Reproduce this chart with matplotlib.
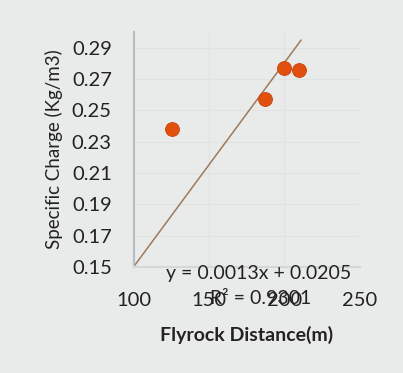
import matplotlib
matplotlib.use("Agg")
import matplotlib.pyplot as plt
import numpy as np

flyrock = [125, 187, 200, 210]
charge = [0.238, 0.257, 0.277, 0.276]
slope = 0.0013
intercept = 0.0205
trend_x = [100, 211]
eq_text = "y = 0.0013x + 0.0205"
r2_text = "R² = 0.9301"
xticks = [100, 150, 200, 250]
yticks = [0.15, 0.17, 0.19, 0.21, 0.23, 0.25, 0.27, 0.29]

plt.rcParams['font.family'] = ['Lato', 'DejaVu Sans']
bg = '#E9EBEA'
fig = plt.figure(figsize=(4.03, 3.73), dpi=100, facecolor=bg)
ax = fig.add_axes([0.3325, 0.284, 0.56, 0.63], facecolor=bg)

tx = np.array(trend_x, dtype=float)
ax.plot(tx, slope * tx + intercept, color='#9C7A5E', lw=1.1, zorder=2)
ax.scatter(flyrock, charge, s=100, color='#E2500E', edgecolor='#C8440A', lw=0.6, zorder=3)

ax.set_xlim(100, 250)
ax.set_ylim(0.15, 0.30)
ax.set_xticks(xticks)
ax.set_xticklabels([str(v) for v in xticks])
ax.set_yticks(yticks)
ax.set_yticklabels([f"{v:.2f}" for v in yticks])
ax.tick_params(length=0, labelsize=14.5, colors='#222222')
ax.tick_params(axis='y', pad=16)
ax.tick_params(axis='x', pad=18)
ax.grid(True, color='#E1E3E2', lw=0.8)
ax.set_axisbelow(True)
for s in ['top', 'right']:
    ax.spines[s].set_visible(False)
ax.spines['left'].set_color('#B8BCC4')
ax.spines['left'].set_linewidth(1.5)
ax.spines['bottom'].set_color('#D4D6D8')
ax.spines['bottom'].set_linewidth(1.5)

ax.set_xlabel("Flyrock Distance(m)", fontsize=14, fontweight='bold', color='#222222', labelpad=12)
ax.set_ylabel("Specific Charge (Kg/m3)", fontsize=13.5, color='#222222', labelpad=6)

fig.text(259 / 403, 1 - 273 / 373, eq_text, fontsize=14, ha='center', va='center', color='#222222')
fig.text(261 / 403, 1 - 299 / 373, r2_text, fontsize=14, ha='center', va='center', color='#222222')

fig.savefig("out.png", dpi=100, facecolor=bg)
